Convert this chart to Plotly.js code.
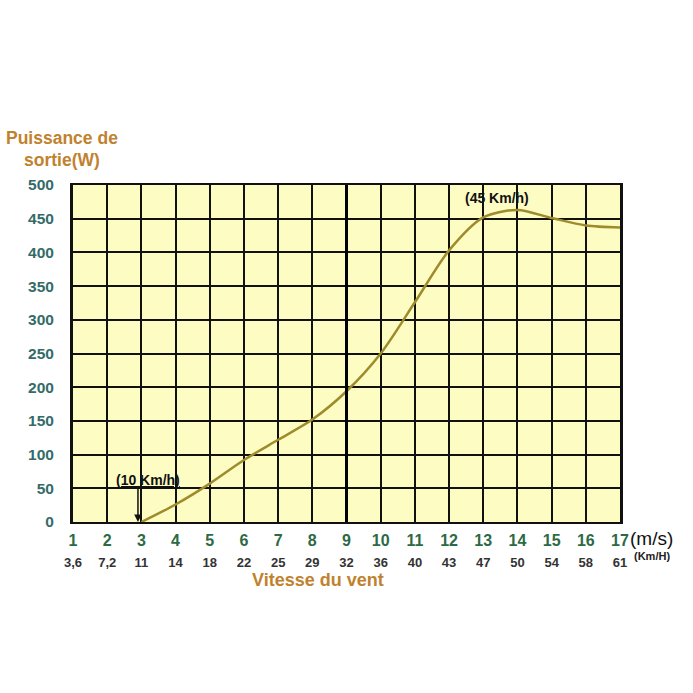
<!DOCTYPE html>
<html>
<head>
<meta charset="utf-8">
<script src="https://cdn.plot.ly/plotly-3.0.1.min.js"></script>
<style>html,body{margin:0;padding:0;background:#fff;}#chart{width:693px;height:693px;}</style>
</head>
<body>
<div id="chart"></div>
<script>
// Wind speed ticks (m/s) and their km/h equivalents
const speedMs = [1,2,3,4,5,6,7,8,9,10,11,12,13,14,15,16,17];
const speedKmh = ['3,6','7,2','11','14','18','22','25','29','32','36','40','43','47','50','54','58','61'];
// Power curve
const curveX = [3,4,5,6,7,8,9,10,11,12,13,14,15,16,17];
const curveY = [0,26,57,92,122,152,194,250,326,403,452,463,451,440,437];
const powerTicks = [0,50,100,150,200,250,300,350,400,450,500];

const tickText = speedMs.map((v,i) =>
  "<span style='font-size:16px;color:#2c6a45'>" + v + "</span><br><span style='font-size:13px;color:#333'>" + speedKmh[i] + "</span>");

const trace = {
  x: curveX, y: curveY, type: 'scatter', mode: 'lines',
  line: {color: '#9e8c2c', width: 2.5, shape: 'spline', smoothing: 0.8},
  hoverinfo: 'skip'
};

const bold = {family: 'Liberation Sans, Arial, sans-serif', weight: 'bold'};

const layout = {
  width: 693, height: 693,
  margin: {l: 73, r: 73, t: 185, b: 171},
  paper_bgcolor: '#ffffff',
  plot_bgcolor: '#fdfcc2',
  showlegend: false,
  xaxis: {
    range: [1, 17], tickmode: 'array', tickvals: speedMs, ticktext: tickText,
    showgrid: true, gridcolor: '#111', gridwidth: 2,
    zeroline: false, showline: true, linecolor: '#111', linewidth: 2, mirror: true,
    ticks: 'outside', ticklen: 3, tickcolor: 'rgba(0,0,0,0)',
    tickfont: Object.assign({size: 16, color: '#2c6a45'}, bold)
  },
  yaxis: {
    range: [0, 500], tickmode: 'array', tickvals: powerTicks,
    showgrid: true, gridcolor: '#111', gridwidth: 2,
    zeroline: false, showline: true, linecolor: '#111', linewidth: 3, mirror: true,
    ticks: 'outside', ticklen: 13, tickcolor: 'rgba(0,0,0,0)',
    tickfont: Object.assign({size: 15.5, color: '#336b68'}, bold)
  },
  shapes: [
    {type: 'line', xref: 'x', yref: 'paper', x0: 9, x1: 9, y0: 0, y1: 1, line: {color: '#000', width: 3}}
  ],
  annotations: [
    {xref: 'paper', yref: 'paper', x: -0.02, y: 1.139, xanchor: 'center', yanchor: 'middle', showarrow: false,
     text: 'Puissance de', font: Object.assign({size: 17.5, color: '#c0822e'}, bold)},
    {xref: 'paper', yref: 'paper', x: -0.02, y: 1.074, xanchor: 'center', yanchor: 'middle', showarrow: false,
     text: 'sortie(W)', font: Object.assign({size: 17.5, color: '#c0822e'}, bold)},
    {xref: 'paper', yref: 'paper', x: 0.448, y: -0.172, xanchor: 'center', yanchor: 'middle', showarrow: false,
     text: 'Vitesse du vent', font: Object.assign({size: 18, color: '#c0822e'}, bold)},
    {xref: 'paper', yref: 'paper', x: 1.014, y: -0.05, xanchor: 'left', yanchor: 'middle', showarrow: false,
     text: '(m/s)', font: {family: 'Liberation Sans, Arial, sans-serif', size: 19, color: '#111'}},
    {xref: 'paper', yref: 'paper', x: 1.022, y: -0.102, xanchor: 'left', yanchor: 'middle', showarrow: false,
     text: '(Km/H)', font: Object.assign({size: 11, color: '#222'}, bold)},
    {xref: 'x', yref: 'y', x: 2.9, y: 0, ax: 0, ay: -36, showarrow: true, arrowhead: 2, arrowsize: 1, arrowwidth: 1.5, arrowcolor: '#111',
     text: ''},
    {xref: 'x', yref: 'y', x: 3.2, y: 63, xanchor: 'center', yanchor: 'middle', showarrow: false,
     text: '<u>(10 Km/h)</u>', font: Object.assign({size: 14, color: '#111'}, bold)},
    {xref: 'x', yref: 'y', x: 13.4, y: 481, xanchor: 'center', yanchor: 'middle', showarrow: false,
     text: '(45 Km/h)', font: Object.assign({size: 14, color: '#111'}, bold)}
  ]
};

Plotly.newPlot('chart', [trace], layout, {staticPlot: true, displayModeBar: false});
</script>
</body>
</html>
